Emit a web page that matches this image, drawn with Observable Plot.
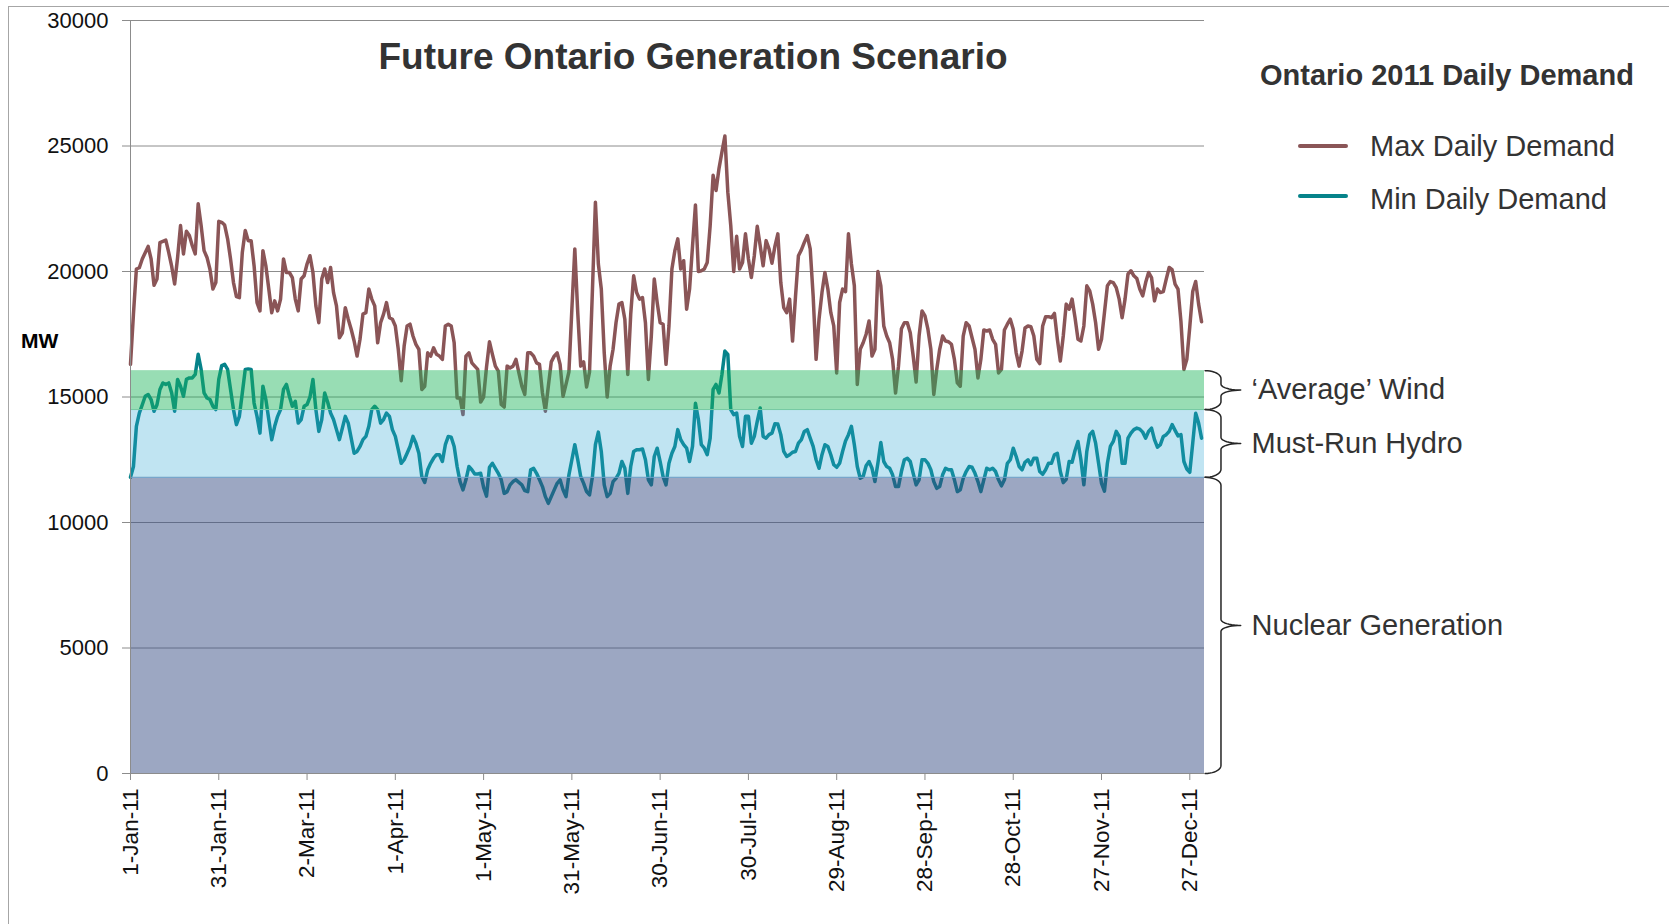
<!DOCTYPE html>
<html>
<head>
<meta charset="utf-8">
<script src="https://cdn.jsdelivr.net/npm/d3@7"></script>
<script src="https://cdn.jsdelivr.net/npm/@observablehq/plot@0.6"></script>
<style>
  html, body { margin: 0; padding: 0; background: #fff; overflow: hidden; }
  #wrap { position: relative; width: 1669px; height: 924px; font-family: "Liberation Sans", Arial, sans-serif; }
  #wrap svg { position: absolute; left: 0; top: 0; }
  .ov { position: absolute; line-height: 0; white-space: nowrap; }
  .frame { position: absolute; left: 8px; top: 6px; width: 1700px; height: 1000px;
           border-left: 1px solid #a6a6a6; border-top: 1px solid #a6a6a6; pointer-events: none; }
  .sw { position: absolute; width: 50px; height: 4px; border-radius: 2px; }
</style>
</head>
<body>
<div id="wrap"></div>
<script>
// ---------- data ----------
const startDate = "2011-01-01";
const maxDemand = [
16300,18300,20100,20150,20500,20750,21000,20500,19450,19700,
21150,21200,21250,20750,20200,19500,20550,21830,20700,21600,
21430,21030,20700,22700,21830,20830,20560,20090,19300,19560,
22000,21960,21850,21300,20500,19560,19000,18960,20760,21630,
21230,21230,20230,18760,18430,20830,20230,19300,18360,18830,
18430,18900,20500,19960,19960,19760,18900,18430,19700,19830,
20300,20630,19960,18630,17960,19700,20100,19560,20160,19160,
18630,17360,17560,18560,18100,17700,17230,16630,17300,18300,
18360,19300,18900,18630,17160,17960,18300,18760,18160,18100,
17830,16900,15650,17030,17830,17900,17430,17100,16900,15300,
15430,16760,16630,16960,16700,16630,16500,17830,17900,17830,
17160,14960,14960,14300,16630,16760,16360,16230,16100,14800,
15000,16200,17200,16700,16230,16030,14700,14600,16230,16160,
16230,16500,15960,15430,15100,16760,16760,16630,16360,16300,
15160,14430,15430,16400,16630,16760,16300,15030,15500,16000,
18500,20900,18360,16230,16400,15400,16000,19300,22760,20300,
19300,16760,15000,16230,16900,17960,18700,18760,18100,15900,
18300,19830,19160,18900,18960,17960,15700,17430,19700,18760,
17960,17900,16300,17830,20100,20830,21300,20100,20430,18500,
19300,21000,22650,20000,20030,20100,20360,21830,23830,23230,
24100,24760,25400,23160,21830,20000,21400,20100,20360,21500,
20500,19760,20630,21800,21030,20230,21230,20900,20330,21000,
21500,19560,18560,18360,18900,17230,19000,20630,20860,21160,
21430,20900,19030,16500,18100,19160,19960,19300,18360,17830,
15960,18760,19300,19200,21500,20300,19430,15500,16900,17160,
17500,18030,16630,16900,20000,19430,17830,17430,17160,16500,
15160,16230,17720,17960,17960,17560,16630,15600,17430,18430,
18230,17700,16900,15100,16100,16900,17430,17230,17200,17100,
16500,15560,15430,17430,17960,17830,17360,16900,15760,16500,
17670,17630,17670,17300,17100,15960,16100,17670,17900,18100,
17700,16760,16230,16830,17750,17830,17800,17430,16500,16330,
17830,18200,18200,18160,18330,17300,16430,17430,18700,18500,
18900,18160,17300,17230,17830,19430,19230,18700,17960,16900,
17300,18360,19430,19600,19560,19360,18900,18160,18900,19900,
20030,19830,19720,19300,19030,19560,19960,19760,18830,19300,
19160,19200,19700,20160,20070,19500,19300,18000,16100,16500,
17800,19200,19600,18700,18000
];
const minDemand = [
11800,12230,13830,14360,14690,15030,15100,14900,14430,14690,
15300,15560,15500,15560,15160,14430,15700,15430,15030,15700,
15760,15760,15900,16700,16100,15160,14960,14900,14630,14500,
15700,16250,16300,16100,15300,14500,13900,14230,15160,16100,
16120,16100,14760,14230,13560,15430,14900,14100,13300,13830,
14230,14500,15300,15500,15030,14630,14830,13960,14100,14630,
14700,15000,15700,14500,13630,14100,15160,14800,14360,14100,
13700,13300,13760,14230,13960,13360,12760,12830,13030,13300,
13430,13830,14500,14630,14500,13960,14100,14360,14230,13700,
13430,12900,12360,12500,12760,13030,13430,13160,12760,11830,
11600,12100,12360,12560,12700,12700,12430,13100,13430,13400,
13030,12230,11630,11300,11700,12230,12100,11930,11930,11960,
11400,11050,12200,12360,12160,11960,11700,11160,11230,11500,
11630,11700,11600,11500,11270,11230,12100,12160,11960,11700,
11430,11030,10760,11030,11300,11560,11700,11300,11030,11900,
12500,13100,12500,11830,11560,11230,11100,11830,13100,13600,
12830,11500,11030,11160,11630,11760,11960,12430,12160,11160,
12230,12830,12900,12900,12930,12500,11700,11500,12630,12960,
12430,11830,11500,12360,12760,13030,13700,13300,13100,12960,
12430,13030,14750,14100,13100,12960,12700,13360,15300,15500,
15160,15900,16830,16700,14500,14300,14360,13430,13030,14230,
14230,13160,13430,14030,14560,13430,13360,13500,13560,13930,
13920,13500,12830,12630,12700,12800,12830,13160,13300,13630,
13700,13360,13030,12500,12160,12700,13100,13030,12700,12300,
12200,12360,12830,13250,13500,13830,13100,12230,11760,11830,
12260,12430,12160,11630,12360,13190,12430,12230,12160,11900,
11430,11430,12030,12500,12560,12430,11960,11500,11700,12500,
12500,12360,12100,11630,11360,11430,11900,12160,12100,12100,
11700,11230,11300,11760,12030,12230,12200,11960,11630,11230,
11700,12160,12100,12160,12030,11700,11460,11700,12360,12500,
12960,12630,12230,12100,12400,12500,12300,12560,12560,12030,
11920,12100,12360,12360,12700,12760,12030,11590,11720,12430,
12400,12870,13230,12500,11500,12830,13500,13630,13160,12360,
11560,11250,12360,13030,13230,13630,13430,12360,12360,13360,
13560,13700,13760,13720,13600,13360,13630,13760,13300,13000,
13100,13430,13500,13630,13900,13670,13450,13500,12430,12130,
12000,13160,14350,13960,13360
];
const seriesNames = ["Max Daily Demand", "Min Daily Demand"];
const seriesColors = ["#8a5557", "#06838a"];

const bandNames = ["Nuclear Generation", "Must-Run Hydro", "\u2018Average\u2019 Wind"];
const bandLow = [0, 11800, 14500];
const bandHigh = [11800, 14500, 16050];
const bandColors = ["rgb(57,79,133)", "rgb(45,165,212)", "rgb(26,179,88)"];
const bandOpacity = [0.5, 0.3, 0.45];
const bandEdgeColors = [null, "#6fa6cf", "#74c9a0"];

const yTicks = [0, 5000, 10000, 15000, 20000, 25000, 30000];
const xTickLabels = ["1-Jan-11","31-Jan-11","2-Mar-11","1-Apr-11","1-May-11","31-May-11","30-Jun-11",
                     "30-Jul-11","29-Aug-11","28-Sep-11","28-Oct-11","27-Nov-11","27-Dec-11"];

const titleText = "Future Ontario Generation Scenario";
const legendTitle = "Ontario 2011 Daily Demand";
const yUnit = "MW";

// ---------- derived ----------
const DAY = 86400000;
const T0 = Date.parse(startDate + "T00:00:00Z");
const dayDate = d => new Date(T0 + d * DAY);
const xEnd = dayDate(365);

const rows = [];
maxDemand.forEach((v, i) => rows.push({date: dayDate(i), value: v, series: seriesNames[0]}));
minDemand.forEach((v, i) => rows.push({date: dayDate(i), value: v, series: seriesNames[1]}));

const bands = bandNames.map((name, i) => ({name, lo: bandLow[i], hi: bandHigh[i], mid: (bandLow[i] + bandHigh[i]) / 2,
  color: bandColors[i], op: bandOpacity[i], edge: bandEdgeColors[i]}));

const xTicks = xTickLabels.map((_, i) => dayDate(30 * i));
const tickLabelByTime = new Map(xTicks.map((d, i) => [+d, xTickLabels[i]]));

// curly braces to the right of the bands (offsets in days beyond the year)
const braceX0 = 365.2, braceXs = 370.6, braceXt = 377.3, labelDay = 381;
const bracePts = [];
bands.forEach(b => {
  const r = Math.min(320, (b.hi - b.lo) / 4), r2 = Math.min(240, (b.hi - b.lo) / 4);
  const a = braceXs - braceX0, c = braceXt - braceXs, N = 10;
  const push = (x, y) => bracePts.push({band: b.name, x: dayDate(x), y});
  for (let k = 0; k <= N; k++) { const t = Math.PI / 2 * (1 - k / N); push(braceX0 + a * Math.cos(t), b.hi - r + r * Math.sin(t)); }
  for (let k = 0; k <= N; k++) { const t = Math.PI / 2 * (k / N); push(braceXt - c * Math.cos(t), b.mid + r2 - r2 * Math.sin(t)); }
  for (let k = 0; k <= N; k++) { const t = Math.PI / 2 * (1 - k / N); push(braceXt - c * Math.cos(t), b.mid - r2 + r2 * Math.sin(t)); }
  for (let k = 0; k <= N; k++) { const t = -Math.PI / 2 * (k / N); push(braceX0 + a * Math.cos(t), b.lo + r + r * Math.sin(t)); }
});

const grid = "#8c8c8c";

const chart = Plot.plot({
  width: 1669, height: 924,
  marginLeft: 130, marginRight: 465, marginTop: 20, marginBottom: 151,
  style: {fontFamily: "'Liberation Sans', Arial, sans-serif", background: "transparent", overflow: "visible"},
  x: {type: "utc", domain: [dayDate(0), xEnd], label: null},
  y: {domain: [0, 30000], label: null},
  color: {domain: seriesNames, range: seriesColors},
  marks: [
    Plot.ruleY(yTicks, {stroke: grid, strokeWidth: 1}),
    Plot.line(rows, {x: "date", y: "value", z: "series", stroke: "series", strokeWidth: 3.5,
      strokeLinejoin: "round", strokeLinecap: "round"}),
    Plot.rect(bands, {x1: () => dayDate(0), x2: () => xEnd, y1: "lo", y2: "hi",
      fill: d => d.color, fillOpacity: d => d.op}),
    Plot.ruleY(bands.filter(b => b.edge), {y: "lo", x1: () => dayDate(0), x2: () => xEnd, stroke: d => d.edge, strokeWidth: 1}),
    Plot.ruleX([dayDate(0)], {stroke: grid, strokeWidth: 1}),
    Plot.ruleY([0], {stroke: grid, strokeWidth: 1}),
    Plot.axisY({ticks: yTicks, tickSize: 8, tickPadding: 14, fontSize: 22, tickFormat: d3.format("d"),
      stroke: grid, fill: "#111", label: null}),
    Plot.axisX({ticks: xTicks, tickFormat: d => tickLabelByTime.get(+d), tickRotate: -90, tickSize: 7,
      tickPadding: 8, fontSize: 22.5, stroke: grid, fill: "#111", label: null}),
    Plot.line(bracePts, {x: "x", y: "y", z: "band", stroke: "#262626", strokeWidth: 1.5}),
    Plot.text(bands, {x: () => dayDate(labelDay), y: "mid", text: "name", textAnchor: "start",
      lineAnchor: "middle", fontSize: 29, fill: "#333"})
  ]
});

const wrap = document.getElementById("wrap");
wrap.appendChild(chart);

function addDiv(cls, text, css) {
  const el = document.createElement("div");
  el.className = cls;
  if (text != null) el.textContent = text;
  Object.assign(el.style, css);
  wrap.appendChild(el);
  return el;
}
addDiv("frame", null, {});
addDiv("ov", titleText, {left: "693px", top: "57px", transform: "translateX(-50%)", fontSize: "37px", fontWeight: "bold", color: "#333"});
addDiv("ov", yUnit, {left: "21px", top: "341px", fontSize: "21px", fontWeight: "bold", color: "#000"});
addDiv("ov", legendTitle, {left: "1260px", top: "75px", fontSize: "29px", fontWeight: "bold", color: "#333"});
const legendSwatchY = [146, 196];
const legendTextY = [146, 199];
seriesNames.forEach((name, i) => {
  addDiv("sw", null, {left: "1298px", top: (legendSwatchY[i] - 2) + "px", background: seriesColors[i]});
  addDiv("ov", name, {left: "1370px", top: legendTextY[i] + "px", fontSize: "29px", color: "#333"});
});
</script>
</body>
</html>
